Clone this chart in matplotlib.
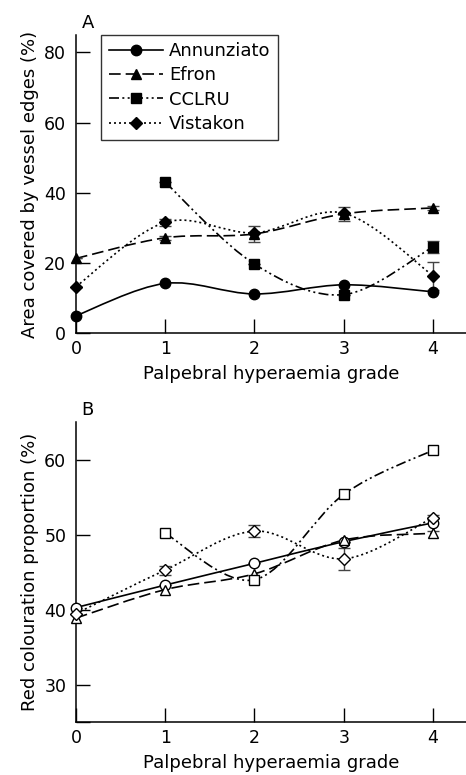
import matplotlib
matplotlib.use("Agg")
import numpy as np
import matplotlib.pyplot as plt
from matplotlib.path import Path
from matplotlib.patches import PathPatch
from matplotlib.lines import Line2D

# ================= DATA ================= #
GRADES = [0, 1, 2, 3, 4]
SERIES = ["Annunziato", "Efron", "CCLRU", "Vistakon"]

# Panel A - area covered by vessel edges (%)
A_ANNUNZIATO = [5.0, 14.2, 11.2, 13.8, 11.8]
A_EFRON = [21.3, 27.2, 28.3, 34.0, 35.7]
A_CCLRU = [None, 43.0, 19.7, 11.0, 24.6]
A_VISTAKON = [13.3, 31.6, 28.6, 34.2, 16.4]
A_ERR_EFRON = [0, 0.6, 2.2, 1.9, 0.6]
A_ERR_CCLRU = [0, 0, 0, 0, 1.7]
A_ERR_VISTAKON = [0, 1.0, 0, 0, 4.0]

# Panel B - red colouration proportion (%)
B_ANNUNZIATO = [40.3, 43.3, 46.2, 49.1, 51.6]
B_EFRON = [38.9, 42.7, 44.8, 49.3, 50.2]
B_CCLRU = [None, 50.2, 44.0, 55.4, 61.3]
B_VISTAKON = [39.5, 45.3, 50.5, 46.8, 52.3]
B_ERR_ANNUNZIATO = [0, 0, 0, 0, 1.1]
B_ERR_VISTAKON = [0, 0.6, 0.8, 1.5, 0]

# ================= STYLE ================= #
LINESTYLES = {
    "Annunziato": "-",
    "Efron": (0, (7, 3)),
    "CCLRU": (0, (6, 2, 1.2, 2, 1.2, 2)),
    "Vistakon": (0, (1.2, 1.8)),
}
MARKERS = {"Annunziato": "o", "Efron": "^", "CCLRU": "s", "Vistakon": "D"}
MSIZE = {"Annunziato": 7.5, "Efron": 7.5, "CCLRU": 7, "Vistakon": 6}

plt.rcParams['font.family'] = ['DejaVu Sans']
plt.rcParams['font.size'] = 12.5


# ================= HELPERS ================= #
def smooth_path(xs, ys):
    # Catmull-Rom through the points as cubic bezier segments
    pts = np.array(list(zip(xs, ys)), dtype=float)
    n = len(pts)
    verts = [pts[0]]
    codes = [Path.MOVETO]
    for i in range(n - 1):
        p0 = pts[i - 1] if i > 0 else pts[i]
        p1 = pts[i]
        p2 = pts[i + 1]
        p3 = pts[i + 2] if i + 2 < n else pts[i + 1]
        c1 = p1 + (p2 - p0) / 6
        c2 = p2 - (p3 - p1) / 6
        verts += [c1, c2, p2]
        codes += [Path.CURVE4] * 3
    return Path(verts, codes)


def draw_series(ax, name, values, err, filled):
    xs = [g for g, v in zip(GRADES, values) if v is not None]
    ys = [v for v in values if v is not None]
    patch = PathPatch(smooth_path(xs, ys), facecolor='none', edgecolor='black',
                      linewidth=1.2, linestyle=LINESTYLES[name], zorder=2)
    ax.add_patch(patch)
    if err is not None:
        es = [e for e, v in zip(err, values) if v is not None]
        ax.errorbar(xs, ys, yerr=es, fmt='none', ecolor='#444444', elinewidth=1.0,
                    capsize=4.5, capthick=1.0, zorder=3)
    ax.plot(xs, ys, linestyle='none', marker=MARKERS[name], markersize=MSIZE[name],
            markerfacecolor='black' if filled else 'white', markeredgecolor='black',
            markeredgewidth=1.0, zorder=4, clip_on=False)


def style_axes(ax, ylim, yticks, ylabels):
    ax.set_xlim(0, 4.37)
    ax.set_ylim(*ylim)
    ax.set_xticks(GRADES)
    ax.set_yticks(yticks)
    ax.set_yticklabels(ylabels)
    ax.spines['top'].set_visible(False)
    ax.spines['right'].set_visible(False)
    for s in ('left', 'bottom'):
        ax.spines[s].set_linewidth(1.1)
    ax.tick_params(direction='in', length=10, width=1.0, labelsize=12.5)
    ax.tick_params(axis='x', pad=5)
    ax.tick_params(axis='y', pad=7)
    ax.set_xlabel("Palpebral hyperaemia grade", fontsize=13, labelpad=5)


# ================= FIGURE ================= #
fig = plt.figure(figsize=(4.66, 7.75), dpi=100, facecolor='white')
ax_a = fig.add_axes([0.163, 0.570, 0.837, 0.385])
ax_b = fig.add_axes([0.163, 0.068, 0.837, 0.387])

# ---- PANEL A ----
a_vals = [A_ANNUNZIATO, A_EFRON, A_CCLRU, A_VISTAKON]
a_errs = [None, A_ERR_EFRON, A_ERR_CCLRU, A_ERR_VISTAKON]
for name, vals, err in zip(SERIES, a_vals, a_errs):
    draw_series(ax_a, name, vals, err, filled=True)
style_axes(ax_a, (0, 85), [0, 20, 40, 60, 80], ["0", "20", "40", "60", "80"])
ax_a.set_ylabel("Area covered by vessel edges (%)", fontsize=13, labelpad=4)
ax_a.text(0.03, 1.01, "A", transform=ax_a.transAxes, fontsize=13, ha='center', va='bottom')

handles = [Line2D([], [], color='black', linewidth=1.2, linestyle=LINESTYLES[n],
                  marker=MARKERS[n], markersize=MSIZE[n], markerfacecolor='black')
           for n in SERIES]
leg = ax_a.legend(handles, SERIES, loc='upper left', bbox_to_anchor=(0.065, 1.0),
                  frameon=True, fancybox=False, edgecolor='black', fontsize=13,
                  handlelength=3.0, handletextpad=0.35, labelspacing=0.35,
                  borderpad=0.4, borderaxespad=0.0)
leg.get_frame().set_linewidth(1.0)

# ---- PANEL B ----
b_vals = [B_ANNUNZIATO, B_EFRON, B_CCLRU, B_VISTAKON]
b_errs = [B_ERR_ANNUNZIATO, None, None, B_ERR_VISTAKON]
for name, vals, err in zip(SERIES, b_vals, b_errs):
    draw_series(ax_b, name, vals, err, filled=False)
style_axes(ax_b, (25, 65), [25, 30, 40, 50, 60], ["", "30", "40", "50", "60"])
ax_b.set_ylabel("Red colouration proportion (%)", fontsize=13, labelpad=4)
ax_b.text(0.03, 1.01, "B", transform=ax_b.transAxes, fontsize=13, ha='center', va='bottom')

fig.savefig("out.png", dpi=100, facecolor='white')
